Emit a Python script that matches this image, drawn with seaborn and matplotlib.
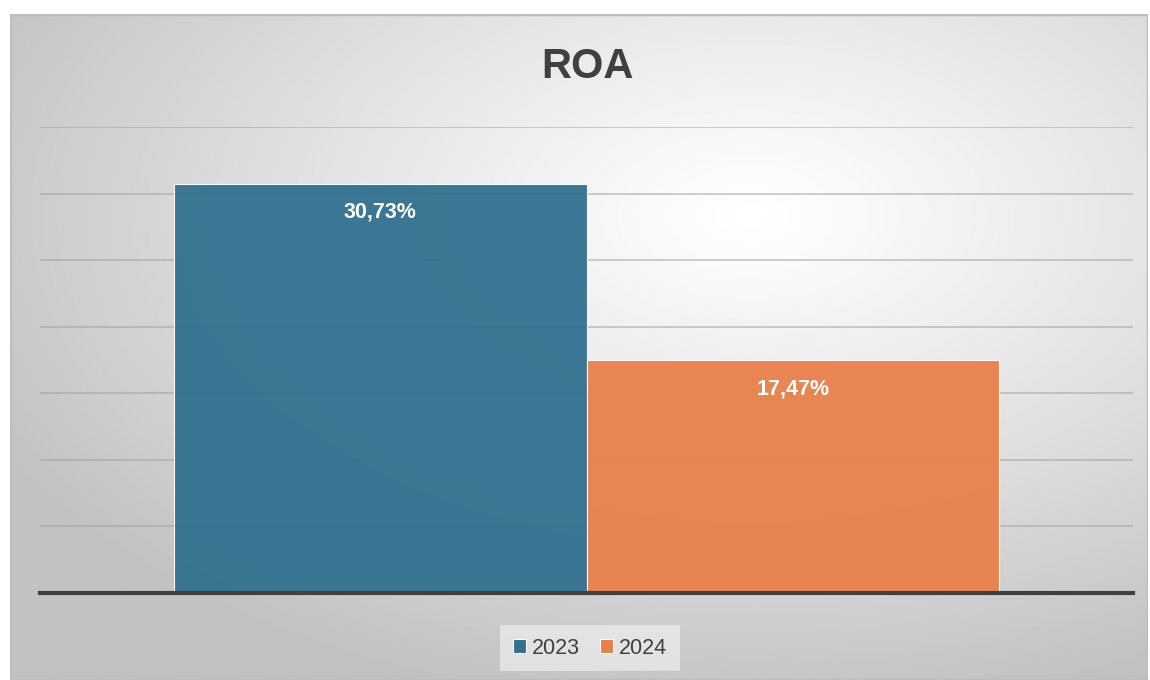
# ROA comparison chart 2023 vs 2024

import numpy as np
import pandas as pd
import matplotlib.pyplot as plt
from matplotlib.patches import Patch, Rectangle
import seaborn as sns

sns.set_style('white')
plt.rcParams['font.family'] = ['Liberation Sans', 'DejaVu Sans']

# ── Data ────────────────────────────────────────────────────────────────────
metric = ['ROA', 'ROA']
years = ['2023', '2024']
roa_values = [30.73, 17.47]
value_labels = ['30,73%', '17,47%']
colors = ['#327190', '#e9804a']

df = pd.DataFrame({'Metric': metric, 'Year': years, 'ROA': roa_values})

W, H = 1150, 680
fig = plt.figure(figsize=(W / 100, H / 100), dpi=100)
fig.patch.set_facecolor('white')

# ── Background panel with radial gradient ──────────────────────────────────
bg = fig.add_axes([10 / W, 0, 1138 / W, 666 / H])
yy, xx = np.mgrid[0:300, 0:500]
cx, cy = 0.65 * 500, 0.30 * 300
dist = np.sqrt(((xx - cx) / 500) ** 2 + ((yy - cy) / 300) ** 2)
dist = np.clip(dist / 0.75, 0, 1)
shade = 1.0 - 0.24 * dist ** 1.1
bg.imshow(shade, cmap='gray', vmin=0, vmax=1, aspect='auto',
          extent=[0, 1, 0, 1], origin='upper', interpolation='bilinear')
bg.add_patch(Rectangle((0, 0), 1, 1, transform=bg.transAxes, fill=False,
                       edgecolor='#bdbdbd', linewidth=2.5))
bg.set_axis_off()

# ── Main axes ───────────────────────────────────────────────────────────────
ax = fig.add_axes([40 / W, 1 - 593 / H, 1093 / W, (593 - 127) / H])
ax.set_facecolor('none')
sns.barplot(data=df, x='Metric', y='ROA', hue='Year', palette=colors,
            width=0.755, alpha=0.95, ax=ax, legend=False, saturation=1,
            edgecolor='#ffffff', linewidth=0.8, zorder=2)
ax.set_xlim(-0.5, 0.5)
ax.set_ylim(0, 35)
ax.set_yticks(np.arange(5, 36, 5))
ax.yaxis.grid(True, color='#a0a0a0', linewidth=1.2, alpha=0.6, zorder=0)
ax.set_axisbelow(True)
ax.set_xticks([])
ax.set_yticklabels([])
ax.tick_params(left=False)
ax.set_xlabel('')
ax.set_ylabel('')
for side in ['top', 'right', 'left']:
    ax.spines[side].set_visible(False)
ax.spines['bottom'].set_color('#404040')
ax.spines['bottom'].set_linewidth(3)

# value labels inside the top of each bar
for bar, lbl in zip(ax.patches, value_labels):
    ax.annotate(lbl, (bar.get_x() + bar.get_width() / 2, bar.get_height()),
                xytext=(0, -20.5), textcoords='offset points',
                ha='center', va='center', color='white',
                fontsize=15.5, fontweight='bold')

# ── Title ───────────────────────────────────────────────────────────────────
fig.text(587 / W, 1 - 67 / H, 'ROA', ha='center', va='center',
         fontsize=30, fontweight='bold', color='#404040')

# ── Legend ──────────────────────────────────────────────────────────────────
handles = [Patch(facecolor=c, edgecolor='white', linewidth=0.8, label=y)
           for c, y in zip(colors, years)]
leg = fig.legend(handles=handles, loc='center', ncol=2,
                 bbox_to_anchor=(590 / W, 1 - 648 / H), fontsize=15.5,
                 frameon=True, fancybox=False, handlelength=0.6,
                 handleheight=0.6, handletextpad=0.3, columnspacing=0.9,
                 borderpad=0.6)
leg.get_frame().set_facecolor('#f4f4f4')
leg.get_frame().set_alpha(0.6)
leg.get_frame().set_edgecolor('none')
for t in leg.get_texts():
    t.set_color('#404040')

plt.savefig('out.png', dpi=100, facecolor='white')
